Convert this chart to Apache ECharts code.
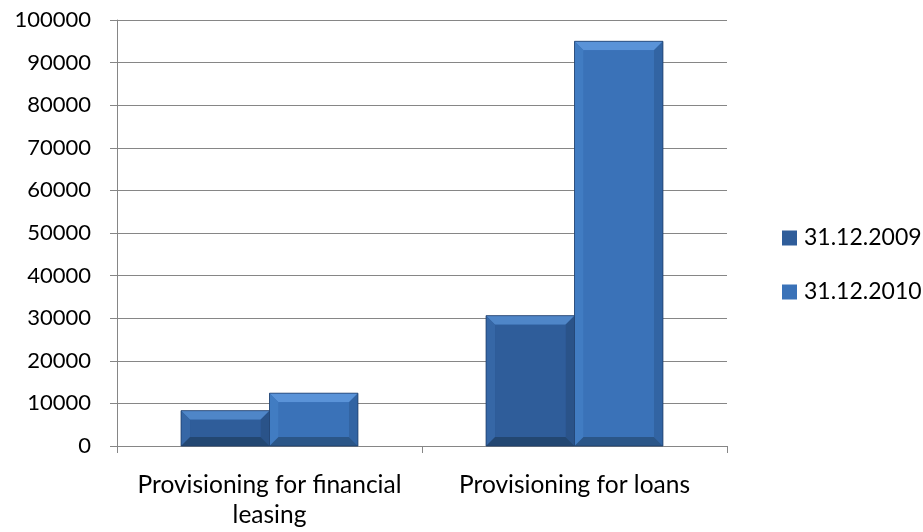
<!DOCTYPE html>
<html>
<head>
<meta charset="utf-8">
<script src="https://cdn.jsdelivr.net/npm/echarts@6/dist/echarts.min.js"></script>
<style>
  html, body { margin: 0; padding: 0; background: #ffffff; }
  #chart { width: 923px; height: 532px; }
</style>
</head>
<body>
<div id="chart"></div>
<script>
// Provisioning balances by reporting date
const categories = ['Provisioning for financial\nleasing', 'Provisioning for loans'];
const seriesNames = ['31.12.2009', '31.12.2010'];
const values2009 = [8300, 30600];
const values2010 = [12400, 95000];
const yTicks = { min: 0, max: 100000, interval: 10000 };

// face / bevel palette per series
const palettes = [
  { face: '#2f5d9a', top: '#4f86c8', left: '#3667a6', right: '#2a5389', bottom: '#234772' },
  { face: '#3a72b8', top: '#5a93d8', left: '#417cc2', right: '#3264a3', bottom: '#2b5688' }
];

const BAR_FRACTION = 0.58;   // share of a category taken by the two bars
const BEVEL = 9;

function makeRenderer(seriesIdx) {
  return function (params, api) {
    const cat = api.value(0);
    const val = api.value(1);
    const top = api.coord([cat, val]);
    const base = api.coord([cat, 0]);
    const catW = api.size([1, 0])[0];
    const barW = catW * BAR_FRACTION / 2;
    const x0 = top[0] - barW + seriesIdx * barW;
    const x1 = x0 + barW;
    const y0 = top[1];
    const y1 = base[1];
    const h = y1 - y0;
    const b = Math.min(BEVEL, h / 2, barW / 2);
    const p = palettes[seriesIdx];
    const poly = (pts, fill) => ({ type: 'polygon', shape: { points: pts }, style: { fill: fill } });
    return {
      type: 'group',
      children: [
        { type: 'rect', shape: { x: x0, y: y0, width: barW, height: h }, style: { fill: p.face } },
        poly([[x0, y0], [x1, y0], [x1 - b, y0 + b], [x0 + b, y0 + b]], p.top),
        poly([[x0, y0], [x0 + b, y0 + b], [x0 + b, y1 - b], [x0, y1]], p.left),
        poly([[x1, y0], [x1, y1], [x1 - b, y1 - b], [x1 - b, y0 + b]], p.right),
        poly([[x0, y1], [x0 + b, y1 - b], [x1 - b, y1 - b], [x1, y1]], p.bottom),
        { type: 'rect', shape: { x: x0 + b, y: y0 + b, width: barW - 2 * b, height: Math.max(0, h - 2 * b) }, style: { fill: p.face } },
        { type: 'rect', shape: { x: x0, y: y0, width: barW, height: h }, style: { fill: 'none', stroke: '#1f3f6b', lineWidth: 1, opacity: 0.8 } }
      ]
    };
  };
}

function toData(vals) {
  return vals.map((v, i) => [i, v]);
}

const chart = echarts.init(document.getElementById('chart'), null, { renderer: 'canvas' });
const font = 'Lato, "Open Sans", sans-serif';

chart.setOption({
  animation: false,
  backgroundColor: '#ffffff',
  textStyle: { fontFamily: font },
  grid: { left: 117, right: 196, top: 20, bottom: 86, containLabel: false },
  legend: {
    orient: 'vertical',
    left: 777,
    top: 221,
    itemWidth: 15,
    itemHeight: 15,
    itemGap: 30,
    icon: 'rect',
    textStyle: { fontFamily: font, fontSize: 23, lineHeight: 24, color: '#000000', padding: [0, 0, 0, 2] },
    data: [
      { name: seriesNames[0], itemStyle: { color: palettes[0].face } },
      { name: seriesNames[1], itemStyle: { color: palettes[1].face } }
    ]
  },
  xAxis: {
    type: 'category',
    data: categories,
    boundaryGap: true,
    axisLine: { lineStyle: { color: '#868686', width: 1 } },
    axisTick: { show: true, length: 7, lineStyle: { color: '#868686' } },
    axisLabel: { color: '#000000', fontFamily: font, fontSize: 24.5, lineHeight: 30, margin: 24, interval: 0 }
  },
  yAxis: {
    type: 'value',
    min: yTicks.min,
    max: yTicks.max,
    interval: yTicks.interval,
    axisLine: { show: true, lineStyle: { color: '#868686', width: 1 } },
    axisTick: { show: true, length: 7, lineStyle: { color: '#868686' } },
    axisLabel: { color: '#000000', fontFamily: font, fontSize: 22, margin: 26, formatter: (v) => String(v) },
    splitLine: { show: true, lineStyle: { color: '#868686', width: 1 } }
  },
  series: [
    {
      name: seriesNames[0],
      type: 'custom',
      renderItem: makeRenderer(0),
      encode: { x: 0, y: 1 },
      itemStyle: { color: palettes[0].face },
      data: toData(values2009)
    },
    {
      name: seriesNames[1],
      type: 'custom',
      renderItem: makeRenderer(1),
      encode: { x: 0, y: 1 },
      itemStyle: { color: palettes[1].face },
      data: toData(values2010)
    }
  ]
});
</script>
</body>
</html>
